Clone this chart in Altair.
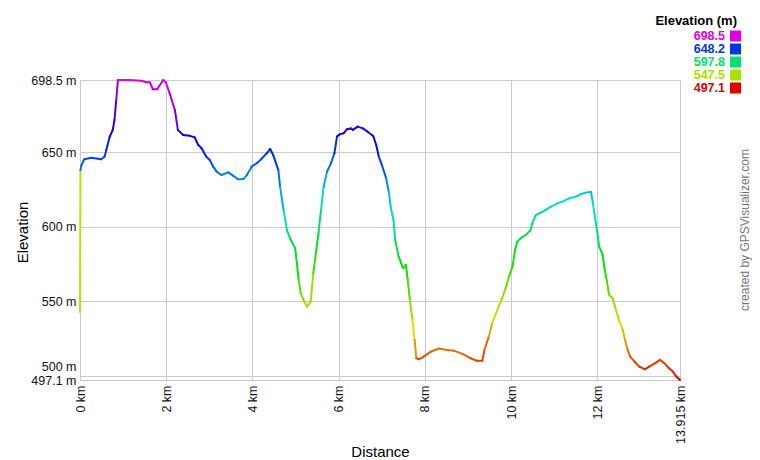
import altair as alt
import pandas as pd
import numpy as np

# ---- data ----
distance_km = [0.00, 0.01, 0.03, 0.10, 0.26, 0.49, 0.57, 0.61, 0.69, 0.76,
               0.80, 0.84, 0.88, 1.15, 1.42, 1.54, 1.62, 1.69, 1.79, 1.93,
               1.99, 2.08, 2.20, 2.27, 2.39, 2.55, 2.66, 2.74, 2.82, 2.93,
               3.01, 3.09, 3.17, 3.28, 3.44, 3.55, 3.67, 3.79, 3.87, 3.98,
               4.10, 4.21, 4.33, 4.41, 4.48, 4.60, 4.64, 4.72, 4.80, 4.87,
               4.99, 5.03, 5.07, 5.12, 5.20, 5.27, 5.35, 5.41, 5.48, 5.53,
               5.59, 5.65, 5.73, 5.82, 5.90, 5.96, 6.02, 6.11, 6.19, 6.28,
               6.33, 6.44, 6.56, 6.67, 6.80, 6.87, 6.93, 7.00, 7.10, 7.16,
               7.21, 7.27, 7.31, 7.39, 7.45, 7.49, 7.56, 7.60, 7.65, 7.71,
               7.76, 7.80, 7.86, 7.97, 8.13, 8.32, 8.52, 8.67, 8.87, 9.06,
               9.20, 9.33, 9.38, 9.48, 9.56, 9.68, 9.79, 9.87, 9.95, 10.03,
               10.09, 10.14, 10.22, 10.34, 10.44, 10.49, 10.57, 10.69, 10.80, 10.92,
               11.07, 11.19, 11.34, 11.50, 11.62, 11.73, 11.85, 11.89, 11.94, 11.99,
               12.04, 12.12, 12.17, 12.22, 12.27, 12.35, 12.43, 12.51, 12.59, 12.64,
               12.70, 12.76, 12.86, 12.97, 13.10, 13.20, 13.34, 13.45, 13.55, 13.66,
               13.75, 13.83, 13.90, 13.915]

elevation_m = [543, 638, 641, 645.3, 646.3, 645.3, 647, 651.5, 660.5, 665,
               671.7, 685, 698.5, 698.5, 698, 697, 697, 692.3, 692.3, 698.5,
               697, 689.5, 678.4, 665, 661.6, 661, 660, 655, 652.7, 647,
               644.8, 640.3, 637, 634.7, 636.5, 634.3, 631.8, 632, 634.7, 640.3,
               642.6, 645.5, 649.3, 652.2, 648.2, 638, 627, 611.3, 597.8, 592.3,
               585.5, 575.5, 564.3, 555.3, 549.7, 546.4, 549.7, 568.8, 584.4, 595.6,
               611.3, 626.9, 637, 642.6, 649.3, 660.5, 662, 662.7, 665.4, 666,
               665, 667.2, 666, 663.8, 660.9, 654.9, 647, 641.5, 632.5, 623.5,
               612.4, 604.5, 591.1, 579.9, 575.5, 572.1, 574.3, 564.3, 550.9, 537.4,
               524, 511.7, 511, 512.8, 516.1, 518.2, 517.3, 516.8, 514.6, 511.7,
               510, 510, 517.3, 526.2, 535.2, 544.1, 552, 558.7, 566.5, 573.2,
               584.4, 590, 592.3, 594.5, 597.4, 602.3, 607.9, 609.5, 611.3, 613.5,
               615.7, 616.8, 619.1, 620.2, 622, 622.9, 623.5, 616.8, 606.8, 597.8,
               586.6, 581.1, 571, 563.2, 554.2, 552, 544.1, 536.3, 530.7, 524,
               517.3, 512.8, 509.5, 506.1, 504.3, 506.1, 508.4, 510.6, 508.4, 505,
               502.8, 499.4, 497.6, 497.1]

x_ticks = [0, 2, 4, 6, 8, 10, 12, 13.915]
y_ticks = [497.1, 500, 550, 600, 650, 698.5]

legend_values = ["698.5", "648.2", "597.8", "547.5", "497.1"]
legend_colors = ["#e000e0", "#0038e0", "#00e070", "#a8e000", "#e00000"]

ramp_colors = ["#e00000", "#e0e000", "#00e000", "#00e0e0", "#0000e0", "#e000e0"]

FONT = "Liberation Sans"
ele_min, ele_max = min(elevation_m), max(elevation_m)
dist_max = max(distance_km)

seg = pd.DataFrame({
    "km": distance_km[:-1], "km2": distance_km[1:],
    "ele": elevation_m[:-1], "ele2": elevation_m[1:],
})

xscale = alt.Scale(domain=[0, dist_max], nice=False, zero=False)
yscale = alt.Scale(domain=[ele_min, ele_max], nice=False, zero=False)
cscale = alt.Scale(domain=list(np.linspace(ele_min, ele_max, 6)), range=ramp_colors, interpolate="rgb")

line = alt.Chart(seg).mark_rule(strokeWidth=2, strokeCap="round").encode(
    x=alt.X("km:Q", scale=xscale, axis=alt.Axis(
        values=x_ticks, title="Distance", labelExpr="datum.value + ' km'",
        labelAngle=270, labelFlush=False, labelOverlap=False, ticks=False,
        labelPadding=5, labelFontSize=12.5,
        titleX=300, titleY=71, titleAlign="center", titleBaseline="middle")),
    x2="km2:Q",
    y=alt.Y("ele:Q", scale=yscale, axis=alt.Axis(
        values=y_ticks, title="Elevation", labelExpr="datum.value + ' m'",
        labelFlush=False, labelOverlap=False, ticks=False, labelPadding=4,
        labelFontSize=12.5,
        labelBaseline={"condition": {"test": "datum.value === 500", "value": "bottom"}, "value": "middle"},
        labelOffset={"condition": {"test": "datum.value === 500", "value": -2}, "value": 0},
        titleAngle=270, titleX=-58, titleY=152, titleAlign="center", titleBaseline="middle")),
    y2="ele2:Q",
    color=alt.Color("ele:Q", scale=cscale, legend=None),
)

leg_df = pd.DataFrame({"label": legend_values, "color": legend_colors})
leg_y = alt.Y("label:N", scale=alt.Scale(type="point", domain=legend_values, range=[-44, 8], padding=0), axis=None)

leg_text = alt.Chart(leg_df).mark_text(
    align="right", baseline="middle", font=FONT, fontSize=12.5, fontWeight="bold"
).encode(x=alt.value(645), y=leg_y, text="label:N", color=alt.Color("color:N", scale=None))

leg_sq = alt.Chart(leg_df).mark_square(size=121, opacity=1, filled=True).encode(
    x=alt.value(655.5), y=leg_y, color=alt.Color("color:N", scale=None))

leg_title = alt.Chart(pd.DataFrame({"t": ["Elevation (m)"]})).mark_text(
    align="right", baseline="alphabetic", font=FONT, fontSize=13, fontWeight="bold", color="#000"
).encode(x=alt.value(657), y=alt.value(-55), text="t:N")

credit = alt.Chart(pd.DataFrame({"t": ["created by GPSVisualizer.com"]})).mark_text(
    align="center", baseline="middle", angle=270, font=FONT, fontSize=12, color="#777"
).encode(x=alt.value(665), y=alt.value(150), text="t:N")

chart = alt.layer(line, leg_text, leg_sq, leg_title, credit).resolve_scale(
    y="independent", color="independent"
).properties(
    width=600, height=300,
    autosize=alt.AutoSizeParams(type="none"),
    padding={"left": 72, "top": 72, "right": 72, "bottom": 80},
).configure_view(strokeWidth=0).configure_axis(
    grid=True, gridColor="#cccccc", gridWidth=1,
    domainColor="#cccccc", domainWidth=1,
    labelFont=FONT, labelColor="#111", titleFont=FONT, titleFontSize=15,
    titleFontWeight="normal", titleColor="#000",
)

chart.save("out.html", embed_options={"renderer": "svg", "actions": False})
